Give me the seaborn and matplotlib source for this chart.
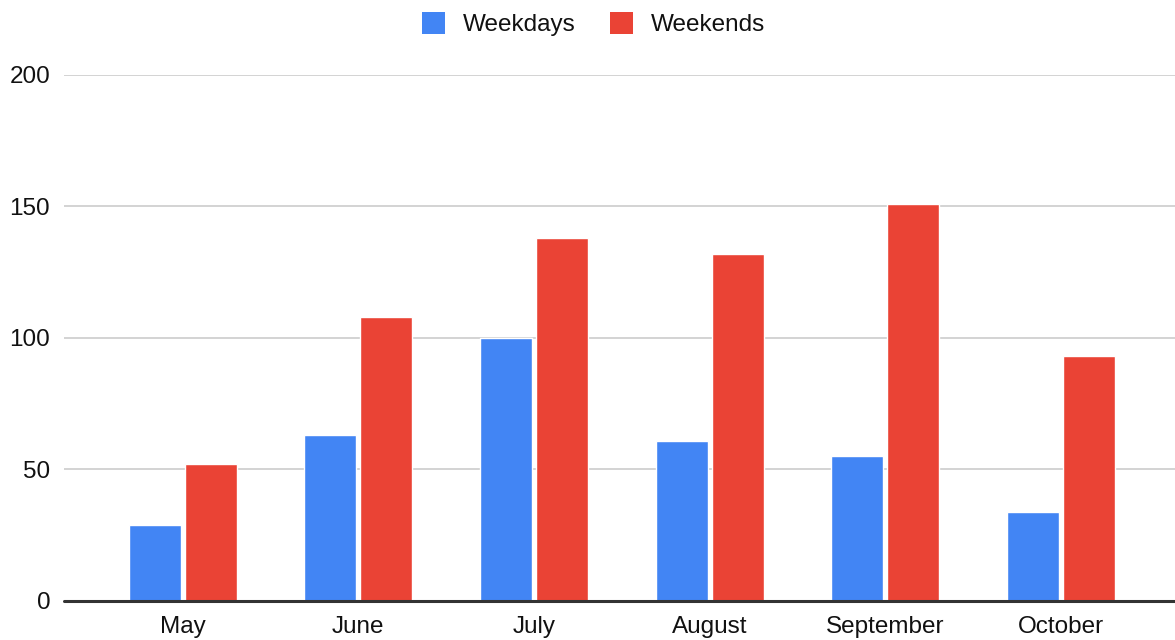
#!/usr/bin/env python
import pandas as pd
import seaborn as sns
from matplotlib import pyplot as plt
from matplotlib.patches import Patch

months = ["May", "June", "July", "August", "September", "October"]
weekdays = [29, 63, 100, 61, 55, 34]
weekends = [52, 108, 138, 132, 151, 93]
series_names = ["Weekdays", "Weekends"]
y_ticks = [0, 50, 100, 150, 200]

df = pd.DataFrame({
    "Month": months * 2,
    "Value": weekdays + weekends,
    "Series": [series_names[0]] * len(months) + [series_names[1]] * len(months),
})

sns.set_theme(style="white")
plt.rcParams['font.family'] = ['Liberation Sans', 'DejaVu Sans']

fig = plt.figure(figsize=(11.75, 6.4), dpi=100)
ax = fig.add_axes([0.0545, 0.061, 0.9455, 0.822])

palette = {"Weekdays": "#4285F4", "Weekends": "#EA4335"}
sns.barplot(data=df, x="Month", y="Value", hue="Series", palette=palette,
            width=0.636, gap=0.07, saturation=1, ax=ax, legend=False)

ax.set_ylim(0, 200)
ax.set_xlim(-0.676, 5.65)
ax.set_yticks(y_ticks)
ax.yaxis.grid(True, color="#cccccc", linewidth=1.2)
ax.set_axisbelow(True)
ax.axhline(0, color="#333333", linewidth=2.2, zorder=5, clip_on=False)
for s in ax.spines.values():
    s.set_visible(False)
ax.set_xlabel("")
ax.set_ylabel("")
ax.tick_params(axis="both", length=0, labelsize=17.5, colors="#111111")
ax.tick_params(axis="y", pad=10)
ax.tick_params(axis="x", pad=11)

# legend at the top
handles = [Patch(facecolor=palette[n], edgecolor="none") for n in series_names]
leg = fig.legend(handles, series_names, loc="center", bbox_to_anchor=(0.505, 0.962),
                 ncol=2, frameon=False, fontsize=17.5, handlelength=0.95,
                 handleheight=1.0, handletextpad=0.75, columnspacing=1.4)
for t in leg.get_texts():
    t.set_color("#111111")

fig.savefig("out.png", dpi=100)
